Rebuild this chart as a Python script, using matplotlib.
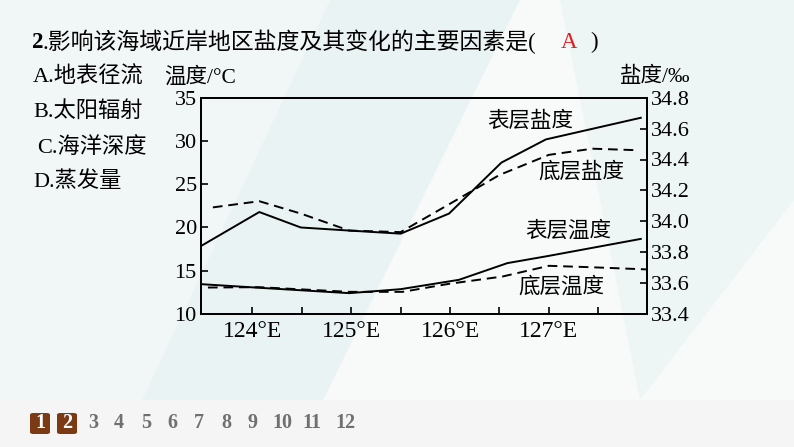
import matplotlib.pyplot as plt
from matplotlib.patches import Polygon, FancyBboxPatch

# data
lon_sal_surf = [123.48, 124.07, 124.49, 124.98, 125.5, 125.99, 126.52, 126.97, 127.93]
sal_surf = [33.84, 34.06, 33.96, 33.94, 33.92, 34.05, 34.38, 34.53, 34.67]

lon_sal_bot = [123.6, 124.07, 124.49, 124.98, 125.5, 125.99, 126.5, 127.0, 127.44, 127.9]
sal_bot = [34.09, 34.13, 34.05, 33.94, 33.93, 34.11, 34.30, 34.43, 34.47, 34.46]

lon_temp_surf = [123.48, 124.07, 124.98, 125.5, 126.09, 126.58, 127.0, 127.93]
temp_surf = [13.45, 13.03, 12.41, 12.87, 13.95, 15.88, 16.72, 18.68]

lon_temp_bot = [123.55, 124.07, 124.98, 125.52, 125.99, 126.53, 127.0, 127.44, 128.0]
temp_bot = [13.06, 13.1, 12.56, 12.56, 13.49, 14.33, 15.57, 15.4, 15.15]

temp_ticks = [10, 15, 20, 25, 30, 35]
sal_ticks = [33.4, 33.6, 33.8, 34.0, 34.2, 34.4, 34.6, 34.8]
lon_ticks = [124, 124.5, 125, 125.5, 126, 126.5, 127, 127.5]
lon_labels = ['124°E', '', '125°E', '', '126°E', '', '127°E', '']

options = ['A.地表径流', 'B.太阳辐射', 'C.海洋深度', 'D.蒸发量']
pages = ['1', '2', '3', '4', '5', '6', '7', '8', '9', '10', '11', '12']

W, H = 794, 447
MIX = ['Liberation Serif', 'Noto Sans CJK SC']


def px(x, y):
    return x / W, 1 - y / H


fig = plt.figure(figsize=(W / 100, H / 100), dpi=100)
fig.patch.set_facecolor('#f8fafa')

# faint background shapes
for pts, c in [([(0, 0), (330, 0), (120, 447), (0, 447)], '#f1f6f6'),
               ([(330, 0), (520, 0), (300, 447), (120, 447)], '#eaf3f4'),
               ([(560, 0), (794, 0), (794, 200), (640, 400)], '#eef5f5')]:
    fig.patches.append(Polygon([px(*p) for p in pts], closed=True, transform=fig.transFigure,
                               facecolor=c, edgecolor='none', zorder=-5))
fig.patches.append(Polygon([px(0, 400), px(794, 400), px(794, 447), px(0, 447)], closed=True,
                           transform=fig.transFigure, facecolor='#f5f5f5', edgecolor='none', zorder=-4))

ax = fig.add_axes([201 / W, 1 - 314 / H, 445.7 / W, 216.3 / H])
ax.patch.set_alpha(0)
ax2 = ax.twinx()

ax.plot(lon_temp_surf, temp_surf, color='black', lw=1.4)
ax.plot(lon_temp_bot, temp_bot, color='black', lw=1.4, ls=(0, (5, 3)))
ax2.plot(lon_sal_surf, sal_surf, color='black', lw=1.4)
ax2.plot(lon_sal_bot, sal_bot, color='black', lw=1.4, ls=(0, (5, 3)))

ax.set_xlim(123.48, 127.99)
ax.set_ylim(10, 35)
ax2.set_ylim(33.4, 34.8)
ax.set_xticks(lon_ticks)
ax.set_xticklabels(lon_labels)
ax.set_yticks(temp_ticks)
ax2.set_yticks(sal_ticks)
ax2.set_yticklabels([f'{v:.1f}' for v in sal_ticks])

for a in (ax, ax2):
    a.tick_params(direction='in', length=5, width=1.2, labelsize=16, pad=3)
    for lbl in a.get_xticklabels() + a.get_yticklabels():
        lbl.set_family('Liberation Serif')
    for s in a.spines.values():
        s.set_linewidth(1.3)
ax.tick_params(axis='x', labelsize=17, pad=5)

ax.text(*px(487, 122), '表层盐度', transform=fig.transFigure, fontsize=15.5, family=MIX, va='center')
ax.text(*px(538, 172), '底层盐度', transform=fig.transFigure, fontsize=15.5, family=MIX, va='center')
ax.text(*px(525, 231), '表层温度', transform=fig.transFigure, fontsize=15.5, family=MIX, va='center')
ax.text(*px(518, 287), '底层温度', transform=fig.transFigure, fontsize=15.5, family=MIX, va='center')

fig.text(*px(164, 77), '温度/°C', fontsize=15.5, family=MIX, va='center')
fig.text(*px(620, 77), '盐度/‰', fontsize=15.5, family=MIX, va='center')

# question text
fig.text(*px(32, 42), '2', fontsize=16.5, family='Liberation Serif', weight='bold', va='center')
fig.text(*px(42, 42), '.影响该海域近岸地区盐度及其变化的主要因素是(', fontsize=16.5, family=MIX, va='center')
fig.text(*px(561, 42), 'A', fontsize=16.5, family='Liberation Serif', color='#e02020', va='center')
fig.text(*px(590, 42), ')', fontsize=16.5, family='Liberation Serif', va='center')

opt_y = [77, 111, 147, 182]
opt_x = [33, 33, 37, 33]
for t, x, y in zip(options, opt_x, opt_y):
    fig.text(*px(x, y), t, fontsize=16, family=MIX, va='center')

# page numbers
page_x = [40, 67, 93, 119, 146, 172, 199, 226, 252, 282, 312, 345]
for p, x in zip(pages, page_x):
    if p in ('1', '2'):
        bx, by = px(x - 10, 434)
        fig.patches.append(FancyBboxPatch((bx, by), 20 / W, 21 / H, boxstyle='round,pad=0,rounding_size=0.004',
                                          transform=fig.transFigure, facecolor='#7b3a14', edgecolor='none'))
        fig.text(*px(x, 423.5), p, fontsize=14.5, family='Liberation Serif', weight='bold',
                 color='white', ha='center', va='center')
    else:
        fig.text(*px(x, 423.5), p, fontsize=14.5, family='Liberation Serif', weight='bold',
                 color='#707070', ha='center', va='center')

fig.savefig('out.png', dpi=100, facecolor=fig.get_facecolor())
